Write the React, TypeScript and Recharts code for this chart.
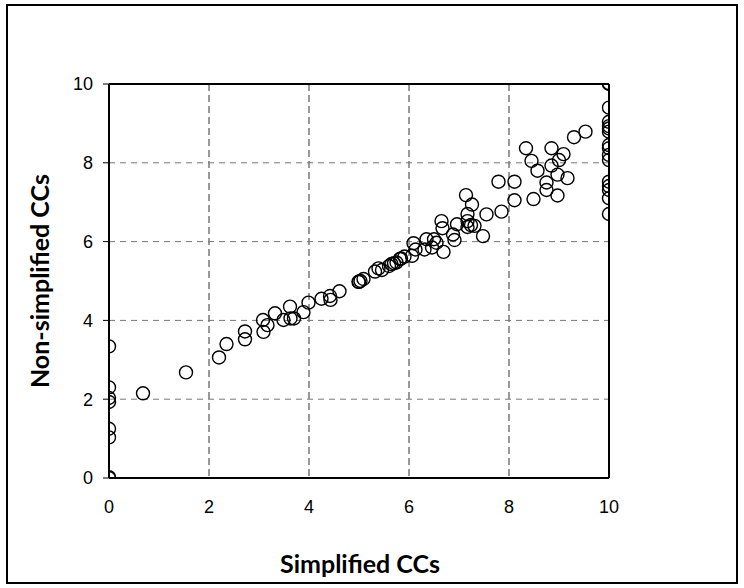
import React from 'react';
import { ScatterChart, Scatter, XAxis, YAxis, CartesianGrid, ReferenceLine } from 'recharts';

const simplifiedCCs = [
  0, 0, 0, 0, 0, 0, 0, 0,
  0.68, 1.54, 2.2, 2.35, 2.72, 2.72, 3.09, 3.08, 3.17, 3.32, 3.49, 3.62, 3.63, 3.7, 3.89, 3.99,
  4.25, 4.42, 4.43, 4.61, 4.99, 5.0, 5.03, 5.09, 5.32, 5.39, 5.46, 5.6, 5.65, 5.7, 5.75, 5.82, 5.84, 5.91,
  6.06, 6.09, 6.13, 6.31, 6.35, 6.46, 6.5, 6.55, 6.65, 6.67, 6.69, 6.88, 6.91, 6.96,
  7.14, 7.17, 7.17, 7.17, 7.24, 7.26, 7.31, 7.48, 7.55, 7.79, 7.85, 8.11, 8.11,
  8.34, 8.45, 8.49, 8.57, 8.75, 8.75, 8.85, 8.85, 8.97, 8.97, 9.0, 9.09, 9.17, 9.3, 9.53,
  10, 10, 10, 10, 10, 10, 10, 10, 10, 10, 10, 10, 10, 10, 10, 10,
];

const nonSimplifiedCCs = [
  3.34, 2.3, 2.03, 1.93, 1.25, 1.03, 0.02, 0,
  2.15, 2.68, 3.06, 3.4, 3.72, 3.52, 3.71, 4.01, 3.88, 4.18, 4.01, 4.35, 4.05, 4.05, 4.21, 4.45,
  4.55, 4.62, 4.52, 4.74, 4.98, 4.98, 5.0, 5.05, 5.24, 5.32, 5.28, 5.38, 5.43, 5.45, 5.47, 5.56, 5.57, 5.62,
  5.64, 5.96, 5.8, 5.8, 6.06, 5.85, 6.06, 5.97, 6.52, 6.34, 5.74, 6.18, 6.04, 6.44,
  7.18, 6.7, 6.52, 6.37, 6.42, 6.94, 6.4, 6.14, 6.69, 7.52, 6.76, 7.52, 7.05,
  8.37, 8.05, 7.08, 7.8, 7.5, 7.31, 7.93, 8.37, 7.7, 7.17, 8.07, 8.22, 7.61, 8.65, 8.79,
  10.02, 10, 9.4, 9.04, 8.93, 8.87, 8.79, 8.45, 8.37, 8.2, 8.07, 7.52, 7.41, 7.31, 7.1, 6.7,
];

const tickValues = [0, 2, 4, 6, 8, 10];

const points = simplifiedCCs.map((x, i) => ({ x, y: nonSimplifiedCCs[i] }));

const RingShape = (props: any) => {
  const { cx, cy } = props;
  if (cx == null || cy == null) return null;
  return <circle cx={cx} cy={cy} r={6.5} fill="none" stroke="#000" strokeWidth={1.4} />;
};

const tickStyle = { fill: '#000', fontSize: 18, fontFamily: '"Liberation Sans", Arial, sans-serif' };

const titleStyle: React.CSSProperties = {
  position: 'absolute',
  fontFamily: 'Lato, "Open Sans", sans-serif',
  fontWeight: 700,
  fontSize: 25,
  whiteSpace: 'nowrap',
  color: '#000',
  lineHeight: 1,
};

export default function App() {
  return (
    <div style={{ position: 'absolute', left: 0, top: 0, width: 744, height: 588, background: '#fff', overflow: 'hidden' }}>
      <div
        style={{
          position: 'absolute',
          left: 6,
          top: 4,
          width: 728,
          height: 576,
          border: '2px solid #000',
        }}
      />
      <div style={{ position: 'absolute', left: 0, top: 0 }}>
        <ScatterChart width={744} height={588} margin={{ top: 84, right: 135, bottom: 80, left: 49 }}>
          <CartesianGrid horizontal={false} stroke="#333" strokeDasharray="7 4" />
          <CartesianGrid vertical={false} stroke="#777" strokeDasharray="6 5" />
          <XAxis
            type="number"
            dataKey="x"
            domain={[0, 10]}
            ticks={tickValues}
            tickLine={false}
            tickSize={0}
            tickMargin={22}
            height={30}
            axisLine={{ stroke: '#000', strokeWidth: 2 }}
            tick={tickStyle}
            allowDataOverflow
          />
          <YAxis
            type="number"
            dataKey="y"
            domain={[0, 10]}
            ticks={tickValues}
            width={60}
            tickSize={6}
            tickMargin={10}
            tickLine={{ stroke: '#000' }}
            axisLine={{ stroke: '#000', strokeWidth: 2 }}
            tick={tickStyle}
            allowDataOverflow
          />
          <ReferenceLine y={10} stroke="#000" strokeWidth={2} />
          <ReferenceLine x={10} stroke="#000" strokeWidth={2} />
          <Scatter data={points} shape={RingShape} isAnimationActive={false} />
        </ScatterChart>
      </div>
      <div style={{ ...titleStyle, left: 360, top: 563, transform: 'translate(-50%, -50%)' }}>
        Simplified CCs
      </div>
      <div style={{ ...titleStyle, left: 39, top: 281, transform: 'translate(-50%, -50%) rotate(-90deg)' }}>
        Non-simplified CCs
      </div>
    </div>
  );
}
